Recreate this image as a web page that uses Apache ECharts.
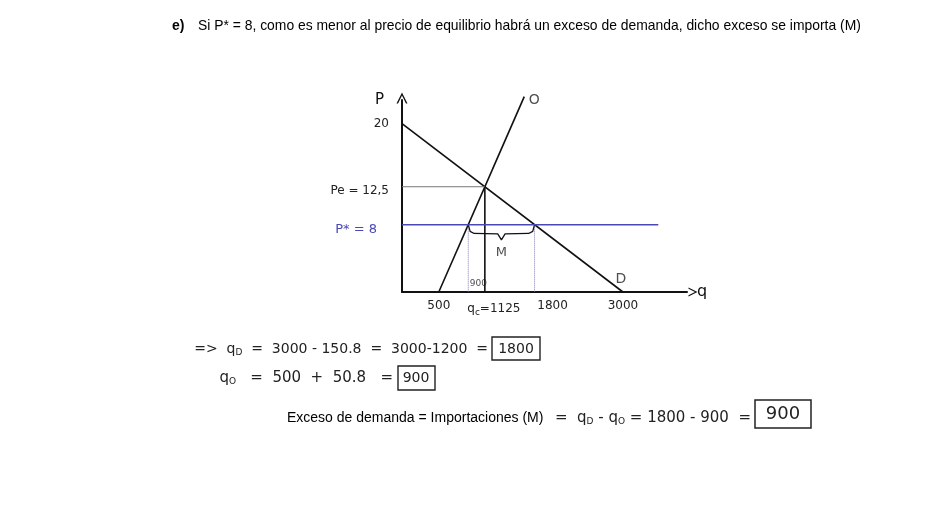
<!DOCTYPE html>
<html>
<head>
<meta charset="utf-8">
<script src="https://cdn.jsdelivr.net/npm/echarts@6/dist/echarts.min.js"></script>
<style>html,body{margin:0;padding:0;background:#fff}#c{width:952px;height:508px}</style>
</head>
<body>
<div id="c"></div>
<script>
// ---- data ----
const qTicks = [500, 1125, 1800, 3000];
const qTickLabels = ['500', '{m|q}{s|c}{t|=1125}', '{r|1800}', '3000'];
const pTicks = [8, 12.5, 20];
const pTickLabels = ['{b|P* = 8}', '{d|Pe = 12,5}', '20'];
const demand = [[0, 20], [3000, 0]];
const supply = [[500, 0], [1660, 23.2]];
const pe = 12.5, qe = 1125;
const pStar = 8, qS = 900, qD = 1800, pStarEnd = 3480;
const brace = [[900, 8], [925, 7.2], [980, 6.95], [1300, 6.9], [1350, 6.2], [1400, 6.9], [1720, 6.95], [1775, 7.2], [1800, 8]];
const notes = [
  { value: [900, 0], text: '900', pos: [10, -8], size: 9 },
  { value: [3000, 0], text: 'D', pos: [-2, -13], size: 14 },
  { value: [1660, 23.2], text: 'O', pos: [10, 4], size: 14 },
  { value: [1350, 6.2], text: 'M', pos: [0, 13], size: 13 }
];

const hand = 'DejaVu Sans';
const chevron = 'path://M0,10 L5,0 L10,10 L8.6,10 L5,2.8 L1.4,10 Z';
const black = '#111';
const blue = '#4a48b5';

const chart = echarts.init(document.getElementById('c'));
const line = (data, color, width, type, z) => ({
  type: 'line', data, symbol: 'none', silent: true, z: z || 2, clip: false,
  lineStyle: { color, width, type: type || 'solid' }, animation: false
});
const sub = { fontFamily: hand, fontSize: 9, fill: '#222', padding: [8, 0, 0, 0] };

chart.setOption({
  animation: false,
  grid: { left: 402, top: 100, width: 285, height: 192 },
  xAxis: {
    type: 'value', min: 0, max: 3870,
    name: 'q', nameLocation: 'end', nameGap: 10,
    nameTextStyle: { fontFamily: hand, fontSize: 16, color: black, verticalAlign: 'middle', padding: [8, 0, 0, 0] },
    axisLine: { show: true, onZero: false, lineStyle: { color: black, width: 2 }, symbol: ['none', chevron], symbolSize: [9, 12], symbolOffset: [0, 6] },
    axisTick: { show: false },
    splitLine: { show: false },
    axisLabel: {
      customValues: qTicks, margin: 8, fontFamily: hand, fontSize: 12, color: '#222',
      formatter: v => qTickLabels[qTicks.indexOf(v)],
      rich: {
        s: { fontFamily: hand, fontSize: 9, color: '#222', verticalAlign: 'bottom', padding: [8, 0, 0, 0] },
        m: { fontFamily: hand, fontSize: 12, color: '#222', padding: [0, 0, 0, 18] },
        t: { fontFamily: hand, fontSize: 12, color: '#222' },
        r: { fontFamily: hand, fontSize: 12, color: '#222', padding: [0, 0, 8, 36] }
      }
    }
  },
  yAxis: {
    type: 'value', min: 0, max: 22.8,
    name: 'P', nameLocation: 'end', nameGap: 0,
    nameTextStyle: { fontFamily: hand, fontSize: 15, color: black, align: 'right', verticalAlign: 'middle', padding: [0, 18, 0, 0] },
    axisLine: { show: true, onZero: false, lineStyle: { color: black, width: 2 }, symbol: ['none', chevron], symbolSize: [11, 13], symbolOffset: [0, 2] },
    axisTick: { show: false },
    splitLine: { show: false },
    axisLabel: {
      customValues: pTicks, margin: 13, fontFamily: hand, fontSize: 12, color: '#222',
      formatter: v => pTickLabels[pTicks.indexOf(v)],
      rich: {
        b: { fontFamily: hand, fontSize: 13, color: blue, padding: [10, 12, 0, 0] },
        d: { fontFamily: hand, fontSize: 12, color: '#222', padding: [8, 0, 0, 0] }
      }
    }
  },
  series: [
    line(demand, black, 1.6),
    line(supply, black, 1.6),
    line([[0, pe], [qe, pe]], '#777', 1),
    line([[qe, pe], [qe, 0]], black, 1.6),
    line([[0, pStar], [pStarEnd, pStar]], blue, 1.5, 'solid', 3),
    line([[qS, pStar], [qS, 0]], '#7b7bc8', 1, 'dotted'),
    line([[qD, pStar], [qD, 0]], '#7b7bc8', 1, 'dotted'),
    line(brace, black, 1.3),
    {
      type: 'scatter', symbolSize: 0, silent: true, animation: false, clip: false,
      data: notes.map(n => ({
        value: n.value,
        label: { show: true, formatter: n.text, position: 'inside', offset: n.pos, fontFamily: hand, fontSize: n.size, color: '#222' }
      }))
    }
  ],
  graphic: [
    { type: 'text', left: 172, top: 19, style: { text: 'e)', font: 'bold 14px "Liberation Sans"', fill: '#000' } },
    { type: 'text', left: 198, top: 19, style: { text: 'Si P* = 8, como es menor al precio de equilibrio habrá un exceso de demanda, dicho exceso se importa (M)', font: '13.9px "Liberation Sans"', fill: '#000' } },

    { type: 'text', x: 488, y: 349, style: { text: '{t|=>  q}{s|D}{t|  =  3000 - 150.8  =  3000-1200  =}', align: 'right', verticalAlign: 'middle',
      rich: { t: { fontFamily: hand, fontSize: 14, fill: '#222' }, s: sub } } },
    { type: 'rect', shape: { x: 492, y: 337, width: 48, height: 23 }, style: { fill: 'none', stroke: '#222', lineWidth: 1.4 } },
    { type: 'text', x: 516, y: 349, style: { text: '1800', font: '14px "DejaVu Sans"', fill: '#222', align: 'center', verticalAlign: 'middle' } },

    { type: 'text', x: 393, y: 378, style: { text: '{t|q}{s|O}{t|   =  500  +  50.8   =}', align: 'right', verticalAlign: 'middle',
      rich: { t: { fontFamily: hand, fontSize: 15, fill: '#222' }, s: sub } } },
    { type: 'rect', shape: { x: 398, y: 366, width: 37, height: 24 }, style: { fill: 'none', stroke: '#222', lineWidth: 1.4 } },
    { type: 'text', x: 416, y: 378, style: { text: '900', font: '14px "DejaVu Sans"', fill: '#222', align: 'center', verticalAlign: 'middle' } },

    { type: 'text', left: 287, top: 411, style: { text: 'Exceso de demanda = Importaciones (M)', font: '14px "Liberation Sans"', fill: '#000' } },
    { type: 'text', x: 751, y: 418, style: { text: '{t|=  q}{s|D}{t| - q}{s|O}{t| = 1800 - 900  =}', align: 'right', verticalAlign: 'middle',
      rich: { t: { fontFamily: hand, fontSize: 15, fill: '#222' }, s: sub } } },
    { type: 'rect', shape: { x: 755, y: 400, width: 56, height: 28 }, style: { fill: 'none', stroke: '#222', lineWidth: 1.5 } },
    { type: 'text', x: 783, y: 414, style: { text: '900', font: '18px "DejaVu Sans"', fill: '#222', align: 'center', verticalAlign: 'middle' } }
  ]
});
</script>
</body>
</html>
